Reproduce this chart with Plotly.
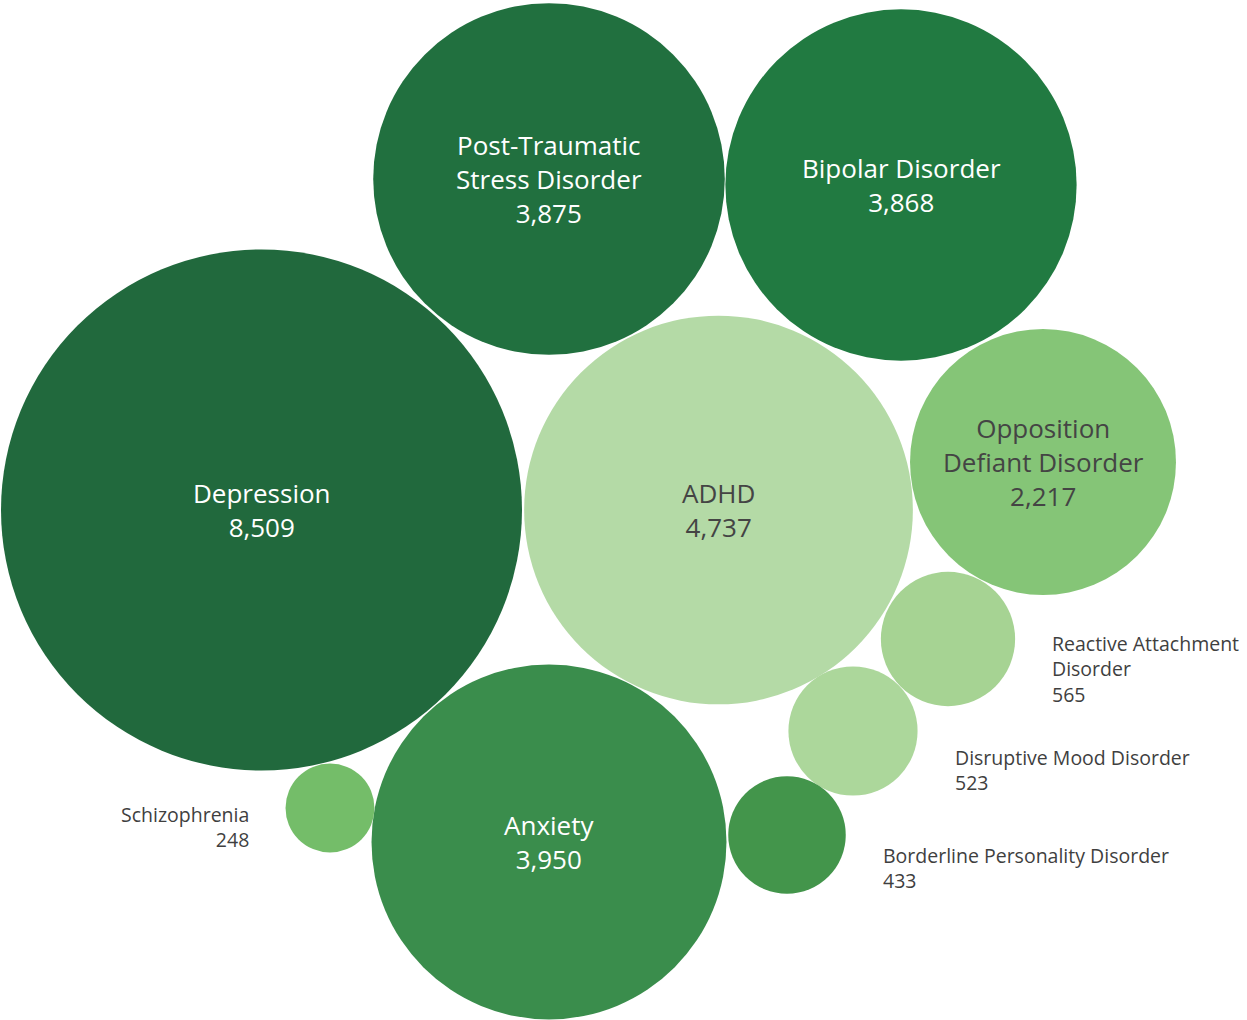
import math
import plotly.graph_objects as go

# diagnoses and patient counts
labels = [
    "Depression", "Post-Traumatic<br>Stress Disorder", "Bipolar Disorder", "ADHD",
    "Opposition<br>Defiant Disorder", "Reactive Attachment<br>Disorder",
    "Disruptive Mood Disorder", "Borderline Personality Disorder",
    "Anxiety", "Schizophrenia",
]
values = [8509, 3875, 3868, 4737, 2217, 565, 523, 433, 3950, 248]

# packed-circle layout (centres, in px of the 1247x1020 canvas)
cx = [261.5, 549, 901, 718.5, 1043, 948, 853, 787, 549, 330]
cy = [510, 179, 185, 510, 462, 639, 731, 835, 842, 808]

colors = ["#21693d", "#21703f", "#217a41", "#b4daa6", "#85c577",
          "#a6d393", "#acd79b", "#43954b", "#3a8d4c", "#74bd69"]

# where the label goes: inside the bubble, or outside (side, vertical offset)
label_inside = [True, True, True, True, True, False, False, False, True, False]
label_side = [None, None, None, None, None, "right", "right", "right", None, "left"]
label_dy = [0, 0, 0, 0, 0, 30, 39, 33, 0, 19]
dark_text = [False, False, False, True, True, False, False, False, False, False]

K = 2.824  # px radius per sqrt(count)
radius = [K * math.sqrt(v) for v in values]

W, H = 1247, 1020
FONT = "'Open Sans', Lato, sans-serif"

fig = go.Figure()
fig.add_trace(go.Scatter(
    x=cx, y=cy,
    mode="markers",
    marker=dict(size=[2 * r for r in radius], sizemode="diameter",
                color=colors, opacity=1, line=dict(width=0)),
    hoverinfo="skip",
))

for i, lab in enumerate(labels):
    txt = f"{lab}<br>{values[i]:,}"
    if label_inside[i]:
        fig.add_annotation(
            x=cx[i], y=cy[i], text=txt, showarrow=False,
            xanchor="center", yanchor="middle", align="center",
            font=dict(size=26, family=FONT,
                      color="#444444" if dark_text[i] else "white"),
        )
    else:
        right = label_side[i] == "right"
        gap = radius[i] + 35
        fig.add_annotation(
            x=cx[i] + gap if right else cx[i] - gap,
            y=cy[i] + label_dy[i], text=txt, showarrow=False,
            xanchor="left" if right else "right", yanchor="middle",
            align="left" if right else "right",
            font=dict(size=19.5, family=FONT, color="#3f3f3f"),
        )

fig.update_layout(
    width=W, height=H, autosize=False,
    margin=dict(l=0, r=0, t=0, b=0),
    paper_bgcolor="white", plot_bgcolor="white",
    showlegend=False,
)
fig.update_xaxes(range=[0, W], visible=False, fixedrange=True)
fig.update_yaxes(range=[H, 0], visible=False, fixedrange=True)

fig.write_html("out.html", config={"displayModeBar": False},
               post_script="document.body.style.margin='0';")
